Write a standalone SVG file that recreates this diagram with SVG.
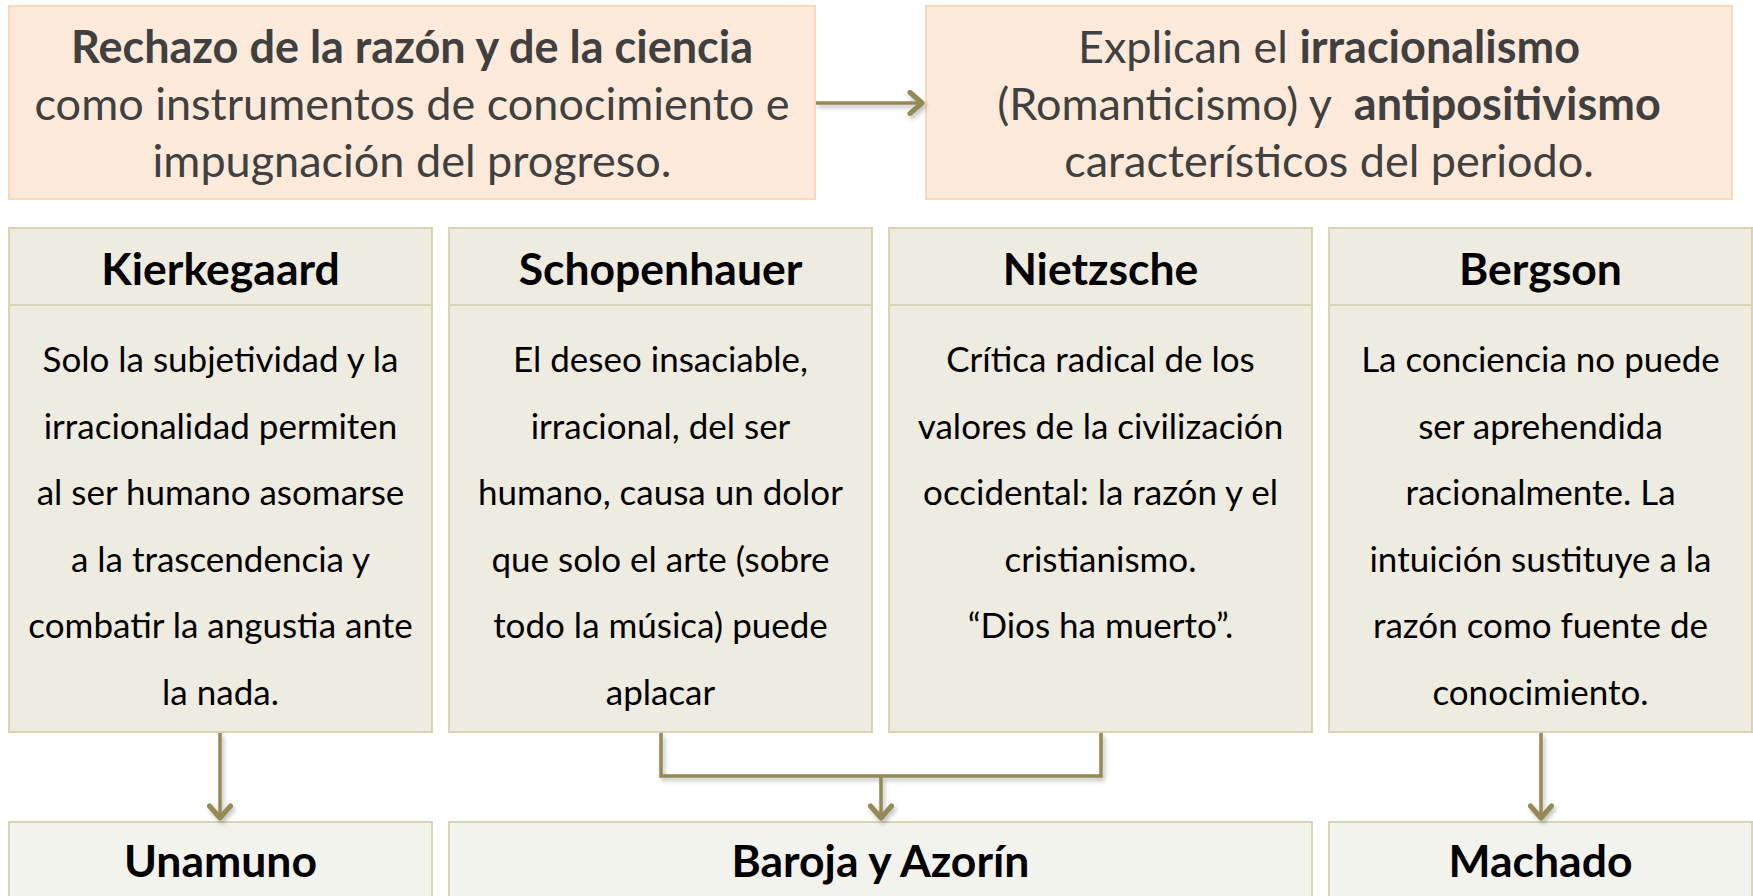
<svg xmlns="http://www.w3.org/2000/svg" width="1753" height="896" viewBox="0 0 1753 896">
<defs>
<style>
.top{fill:#FDEADA;stroke:#FBD9BD;stroke-width:2}
.mid{fill:#EEECE1;stroke:#D9D4B5;stroke-width:2}
.bot{fill:#F3F3EE;stroke:#D9D4B5;stroke-width:2}
.div{stroke:#D9D4B5;stroke-width:2}
text{font-family:Lato,"Open Sans","Liberation Sans",sans-serif;text-anchor:middle}
.tt{font-size:45px;fill:#404040}
.hd{font-size:44.5px;font-weight:bold;fill:#000}
.bd{font-size:35px;fill:#000}
.b{font-weight:bold}
.con{fill:none;stroke:#948A54;stroke-width:3.5}
</style>
<marker id="arr" viewBox="0 0 24 26" refX="18" refY="13" markerWidth="24" markerHeight="26" markerUnits="userSpaceOnUse" orient="auto">
<path d="M6,2.5 L18,13 L6,23.5" fill="none" stroke="#948A54" stroke-width="5" stroke-linecap="round" stroke-linejoin="round"/>
</marker>
<filter id="sh" x="-20%" y="-20%" width="140%" height="140%">
<feDropShadow dx="2" dy="3" stdDeviation="2" flood-color="#000" flood-opacity="0.25"/>
</filter>
</defs>
<rect width="1753" height="896" fill="#fff"/>

<g id="premise">
<rect class="top" x="9" y="6" width="806" height="193"/>
<text class="tt" x="412" y="63"><tspan class="b">Rechazo de la razón y de la ciencia</tspan></text>
<text class="tt" x="412" y="120">como instrumentos de conocimiento e</text>
<text class="tt" x="412" y="177">impugnación del progreso.</text>
</g>

<g id="conclusion">
<rect class="top" x="926" y="6" width="806" height="193"/>
<text class="tt" x="1329" y="63">Explican el <tspan class="b">irracionalismo</tspan></text>
<text class="tt" x="1329" y="120" xml:space="preserve">(Romanticismo) y  <tspan class="b">antipositivismo</tspan></text>
<text class="tt" x="1329" y="177">característicos del periodo.</text>
</g>

<g id="kierkegaard">
<rect class="mid" x="9" y="228" width="423" height="504"/>
<line class="div" x1="9" y1="305" x2="432" y2="305"/>
<text class="hd" x="220.5" y="285">Kierkegaard</text>
<text class="bd" x="220.5" y="372">Solo la subjetividad y la</text>
<text class="bd" x="220.5" y="438.6">irracionalidad permiten</text>
<text class="bd" x="220.5" y="505.2">al ser humano asomarse</text>
<text class="bd" x="220.5" y="571.8">a la trascendencia y</text>
<text class="bd" x="220.5" y="638.4">combatir la angustia ante</text>
<text class="bd" x="220.5" y="705">la nada.</text>
</g>

<g id="schopenhauer">
<rect class="mid" x="449" y="228" width="423" height="504"/>
<line class="div" x1="449" y1="305" x2="872" y2="305"/>
<text class="hd" x="660.5" y="285">Schopenhauer</text>
<text class="bd" x="660.5" y="372">El deseo insaciable,</text>
<text class="bd" x="660.5" y="438.6">irracional, del ser</text>
<text class="bd" x="660.5" y="505.2">humano, causa un dolor</text>
<text class="bd" x="660.5" y="571.8">que solo el arte (sobre</text>
<text class="bd" x="660.5" y="638.4">todo la música) puede</text>
<text class="bd" x="660.5" y="705">aplacar</text>
</g>

<g id="nietzsche">
<rect class="mid" x="889" y="228" width="423" height="504"/>
<line class="div" x1="889" y1="305" x2="1312" y2="305"/>
<text class="hd" x="1100.5" y="285">Nietzsche</text>
<text class="bd" x="1100.5" y="372">Crítica radical de los</text>
<text class="bd" x="1100.5" y="438.6">valores de la civilización</text>
<text class="bd" x="1100.5" y="505.2">occidental: la razón y el</text>
<text class="bd" x="1100.5" y="571.8">cristianismo.</text>
<text class="bd" x="1100.5" y="638.4">“Dios ha muerto”.</text>
</g>

<g id="bergson">
<rect class="mid" x="1329" y="228" width="423" height="504"/>
<line class="div" x1="1329" y1="305" x2="1752" y2="305"/>
<text class="hd" x="1540.5" y="285">Bergson</text>
<text class="bd" x="1540.5" y="372">La conciencia no puede</text>
<text class="bd" x="1540.5" y="438.6">ser aprehendida</text>
<text class="bd" x="1540.5" y="505.2">racionalmente. La</text>
<text class="bd" x="1540.5" y="571.8">intuición sustituye a la</text>
<text class="bd" x="1540.5" y="638.4">razón como fuente de</text>
<text class="bd" x="1540.5" y="705">conocimiento.</text>
</g>

<g id="unamuno">
<rect class="bot" x="9" y="822" width="423" height="90"/>
<text class="hd" x="220.5" y="877">Unamuno</text>
</g>

<g id="baroja-azorin">
<rect class="bot" x="449" y="822" width="863" height="90"/>
<text class="hd" x="880.5" y="877">Baroja y Azorín</text>
</g>

<g id="machado">
<rect class="bot" x="1329" y="822" width="423" height="90"/>
<text class="hd" x="1540.5" y="877">Machado</text>
</g>

<g id="connectors" filter="url(#sh)">
<line class="con" x1="816" y1="103" x2="922" y2="103" marker-end="url(#arr)"/>
<line class="con" x1="220" y1="733" x2="220" y2="818" marker-end="url(#arr)"/>
<polyline class="con" points="661,733 661,776 1101,776 1101,733"/>
<line class="con" x1="881" y1="776" x2="881" y2="818" marker-end="url(#arr)"/>
<line class="con" x1="1541" y1="733" x2="1541" y2="818" marker-end="url(#arr)"/>
</g>
</svg>
